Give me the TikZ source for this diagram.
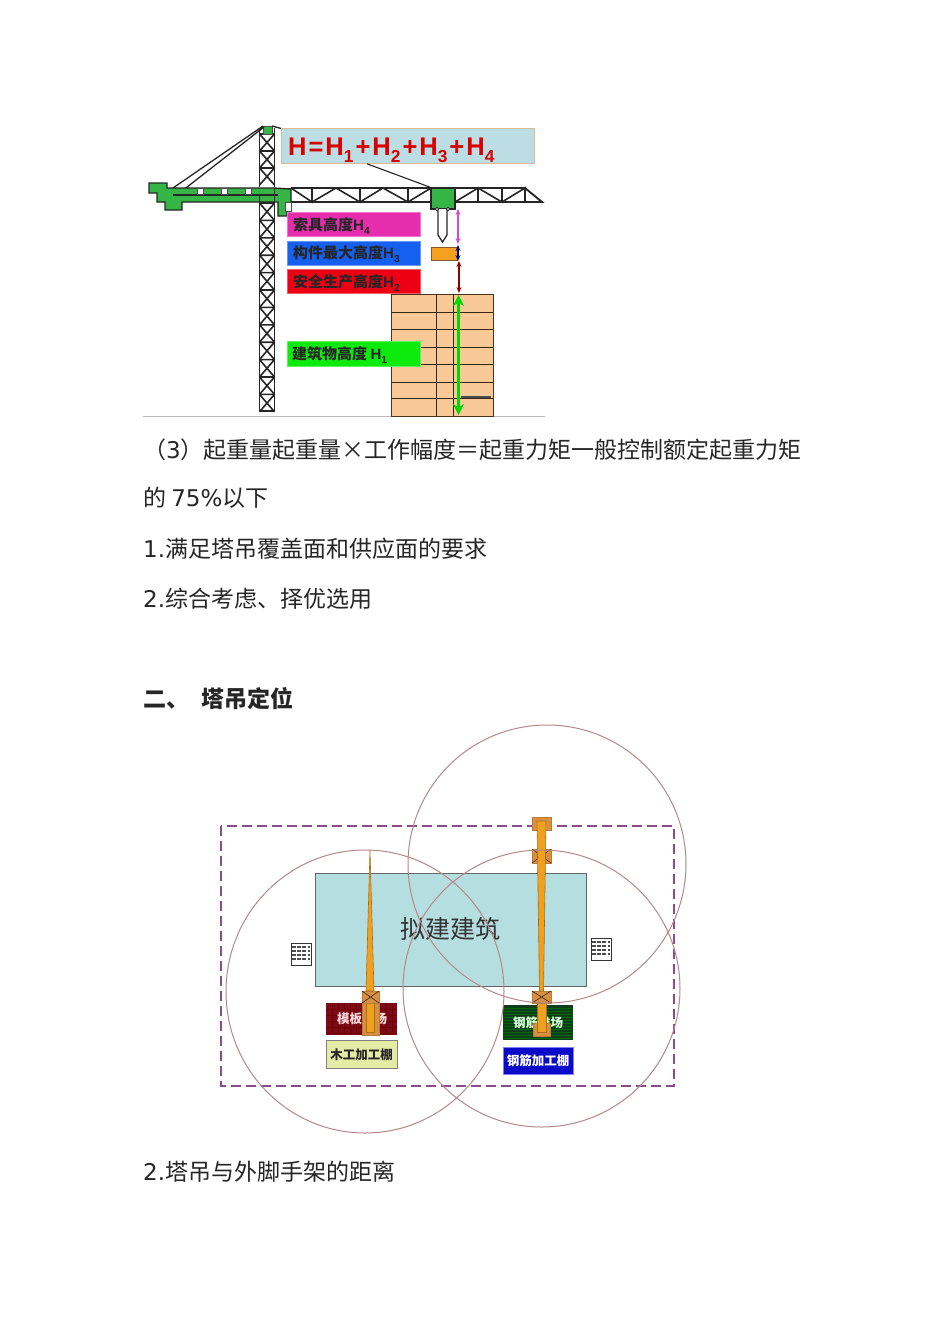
\documentclass[tikz,border=0pt]{standalone}
\usepackage{fontspec}
\setmainfont{DejaVu Sans}
\newfontfamily\cjk{Noto Sans CJK SC}
\newfontfamily\liber{Liberation Sans}
\usetikzlibrary{arrows.meta,shapes.geometric}
\definecolor{txt}{HTML}{262626}
\definecolor{mygreen}{HTML}{34B545}
\definecolor{circ}{HTML}{B5888A}
\definecolor{orng}{HTML}{F0A020}
\definecolor{orng2}{HTML}{D89040}
\definecolor{lmag}{HTML}{E52DAE}
\definecolor{lblu}{HTML}{1560EE}
\definecolor{lred}{HTML}{EE0014}
\definecolor{lgrn}{HTML}{0CEB0C}
\definecolor{dashc}{HTML}{8E4A8E}
\newcommand{\sbs}[1]{\raisebox{-.28em}{\scalebox{.68}{#1}}}
\newcommand{\opgap}[1]{\hspace{2pt}#1\hspace{2pt}}
\tikzset{
  bodytext/.style={anchor=west,inner sep=0pt,text=txt,font=\fontsize{23}{23}\selectfont},
  lab/.style={anchor=west,minimum height=24pt,minimum width=133pt,inner sep=0pt,draw=#1!65!white,fill=#1,line width=.8pt},
  labt/.style={anchor=base west,inner sep=0pt,text=black!85,font=\cjk\bfseries\fontsize{15}{15}\selectfont},
  steelline/.style={line width=1.9pt,draw=black!85},
  lat/.style={line width=1.6pt,draw=black!85},
  dim/.style={line width=1.2pt,{Stealth[length=6pt,width=5pt]}-{Stealth[length=6pt,width=5pt]}},
  ring/.style={draw=circ,line width=1pt,ellipse,inner sep=0pt},
  icon/.style={draw=black!80,fill=white,line width=1pt},
  orngbox/.style={draw=orng2!85!black,fill=orng2,line width=.7pt},
  orngbar/.style={draw=orng!70!black,fill=orng,line width=.6pt},
  sitebox/.style={inner sep=0pt,anchor=north west},
  sitet/.style={inner sep=0pt,font=\cjk\bfseries\fontsize{12.5}{12.5}\selectfont}
}
\begin{document}
\begin{tikzpicture}[x=1pt,y=-1pt]
\useasboundingbox (0,0) rectangle (950,1344);
\fill[white] (0,0) rectangle (950,1344);

% ---- crane figure ----
\draw[black!28,line width=1.2pt] (143,416.5) -- (545,416.5);

% tower
\draw[lat] (259.5,128) -- (259.5,187) (274.5,128) -- (274.5,187) (259.5,203) -- (259.5,411) (274.5,203) -- (274.5,411);
\foreach \y in {134,151,168}{
  \draw[lat] (259.5,\y) -- (274.5,\y+17) (274.5,\y) -- (259.5,\y+17) (259.5,\y) -- (274.5,\y);
}
\foreach \i in {0,...,11}{
  \draw[lat] (259.5,203+\i*17.4) -- (274.5,220.4+\i*17.4) (274.5,203+\i*17.4) -- (259.5,220.4+\i*17.4) (259.5,203+\i*17.4) -- (274.5,203+\i*17.4);
}
\draw[lat] (259.5,411) -- (274.5,411);
\fill[mygreen,draw=black!70,line width=.6pt] (263,126) rectangle (272,134);

% back stays
\draw[steelline,line width=1.3pt] (263,126) -- (173,188) (264,127) -- (182,191) (272,126) -- (283,129);
\draw[steelline,line width=1.3pt] (173,188) -- (182,191);

% jib truss
\draw[steelline] (291,188) -- (525,188) -- (542,202) -- (291,202);
\draw[lat] (291,188) -- (312,202) -- (312,188) (312,202) -- (336,188) -- (360,202) -- (360,188) (360,202) -- (383,188) -- (408,202) -- (408,188) (408,202) -- (431,188);
\draw[lat] (455,202) -- (478,188) -- (478,202) (478,188) -- (502,202) -- (502,188) (502,202) -- (525,188) -- (525,202);

% counter jib
\fill[mygreen,draw=black!85,line width=1.4pt]
 (149,183) -- (167,183) -- (167,188) -- (173,188) -- (182,188) -- (273,188) -- (291,189) -- (291,212)
 -- (287,212) -- (287,216) -- (278,216) -- (278,202) -- (182,202) -- (182,210) -- (165,210) -- (165,202)
 -- (157,202) -- (157,193) -- (149,193) -- cycle;
\draw[black!85,line width=1.2pt] (173,195) -- (278,195);
\foreach \x in {197,221,245}{
  \fill[white,draw=black!70,line width=.4pt] (\x,188.5) rectangle (\x+6,194.5);
}
\fill[white,draw=black!70,line width=.4pt] (285,202) rectangle (291,211);
\draw[black!85,line width=1.3pt] (259.5,195) -- (259.5,203) (274.5,188) -- (274.5,203);

% trolley and hook
\node[draw=black!85,fill=mygreen,line width=1.4pt,minimum width=24pt,minimum height=21pt,inner sep=0pt] (trolley) at (443,198.5) {};
\draw[black!85,line width=1.3pt,fill=white] (438,209) -- (438,235) -- (442.5,242) -- (447,235) -- (447,209);
\draw[black!85,line width=.8pt,fill=white] (437,209) circle (1.8) (448,209) circle (1.8);
\node[draw=brown!70!black,fill={rgb,255:red,245;green,160;blue,30},line width=.7pt,minimum width=26pt,minimum height=13pt,inner sep=0pt] (load) at (444,253.5) {};

% dimension arrows
\coordinate (a1) at (458,209); \coordinate (a2) at (458,244);
\coordinate (b1) at (458,245); \coordinate (b2) at (458,261);
\coordinate (c1) at (459,261); \coordinate (c2) at (459,293);
\coordinate (d1) at (458.5,295); \coordinate (d2) at (458.5,415);
\draw[dim,draw=violet!50!magenta!70,fill=violet!50!magenta!70] (a1) -- (a2);
\draw[dim,draw=blue!50!black,fill=blue!50!black] (b1) -- (b2);
\draw[dim,draw=red!55!black,fill=red!55!black] (c1) -- (c2);

% building
\node[draw=black!60!brown,line width=.8pt,minimum width=102pt,minimum height=122pt,inner sep=0pt,anchor=north west,fill={rgb,255:red,248;green,200;blue,150}] (bldg) at (391,294) {};
\foreach \y in {312,329,347,364,382,398}{
  \draw[black!70!brown,line width=.8pt] (391,\y) -- (493,\y);
}
\draw[black!70!brown,line width=.8pt] (436,294) -- (436,416) (453,294) -- (453,416);
\draw[green!85!black,line width=3.6pt,{Stealth[length=11pt,width=11pt]}-{Stealth[length=11pt,width=11pt]}] (d1) -- (d2);
\draw[black!70,line width=1.1pt] (461,397) -- (491,397);

% labels
\node[lab=lmag] (l4) at (287,224.5) {};
\node[lab=lblu] (l3) at (287,253) {};
\node[lab=lred] (l2) at (287,281.5) {};
\node[lab=lgrn,minimum height=25pt] (l1) at (286.5,353.5) {};
\node[labt] at (293,230) {索具高度{\liber H\sbs{4}}};
\node[labt] at (293,258.5) {构件最大高度{\liber H\sbs{3}}};
\node[labt] at (293,287) {安全生产高度{\liber H\sbs{2}}};
\node[labt] at (292,359) {建筑物高度 {\liber H\sbs{1}}};

% formula
\node[draw=brown!55!white,fill={rgb,255:red,188;green,221;blue,227},line width=.8pt,minimum width=253pt,minimum height=35pt,inner sep=0pt,anchor=north west] (formula) at (281,128) {};
\node[anchor=base west,inner sep=0pt,text=red!85!black,font=\liber\bfseries\fontsize{25.5}{25.5}\selectfont] at (288,155) {H\opgap{=}H\sbs{1}\opgap{+}H\sbs{2}\opgap{+}H\sbs{3}\opgap{+}H\sbs{4}};
\draw[black!85,line width=1.1pt] (formula.south west -| 367,163) -- (trolley.north west);

% ---- text lines ----
\node[bodytext] (t1) at (143,450) {\cjk （{\fontspec{DejaVu Sans}3}）起重量起重量×工作幅度＝起重力矩一般控制额定起重力矩};
\node[bodytext] (t2) at (143,498) {\cjk 的 {\fontspec{DejaVu Sans}75\%}以下};
\node[bodytext] (t3) at (143,549) {1.{\cjk 满足塔吊覆盖面和供应面的要求}};
\node[bodytext] (t4) at (143,599) {2.{\cjk 综合考虑、择优选用}};
\node[bodytext,font=\cjk\bfseries\fontsize{23}{23}\selectfont] (t5) at (143,699) {二、\hspace{12pt}塔吊定位};
\node[bodytext] (t6) at (143,1172) {2.{\cjk 塔吊与外脚手架的距离}};

% ---- site plan ----
\node[draw=black!60,fill={rgb,255:red,181;green,222;blue,224},line width=.8pt,minimum width=271pt,minimum height=113pt,inner sep=0pt,anchor=north west] (plan) at (315,873) {};
\node[inner sep=0pt,text=black!80,font=\cjk\fontsize{25}{25}\selectfont] (plant) at (450,929) {拟建建筑};

\draw[dashc,line width=1.4pt,dash pattern=on 10pt off 5pt] (221,826) rectangle (674,1086);

% site boxes
\node[sitebox,fill={rgb,255:red,125;green,10;blue,25},minimum width=71pt,minimum height=32pt] (mb) at (326,1003) {};
\foreach \x in {332,338,...,392}{\draw[red!45!black,line width=.3pt] (\x,1003) -- (\x,1035);}
\foreach \y in {1009,1015,...,1033}{\draw[red!45!black,line width=.3pt] (326,\y) -- (397,\y);}
\node[sitet,text=white!85!red] at (362,1019) {模板堆场};

\node[sitebox,draw=black!50,fill={rgb,255:red,226;green,236;blue,165},minimum width=71pt,minimum height=28pt,line width=.6pt] (mg) at (326,1040) {};
\node[sitet,text=black!85] at (361.5,1054.5) {木工加工棚};

\node[sitebox,fill={rgb,255:red,12;green,62;blue,28},minimum width=70pt,minimum height=35pt] (gb) at (503,1005) {};
\foreach \y in {1008,1011,...,1038}{\draw[green!40!black,line width=.5pt] (503,\y) -- (573,\y);}
\node[sitet,text=white!85!green] at (538,1023) {钢筋堆场};

\node[sitebox,draw=blue!50,fill={rgb,255:red,10;green,10;blue,200},minimum width=70pt,minimum height=27pt,line width=.6pt] (gg) at (503,1047) {};
\node[sitet,text=white] at (538,1060.5) {钢筋加工棚};

% brick icons
\foreach \cx/\cy in {301/954,601/949}{
  \draw[icon] (\cx-10,\cy-11) rectangle (\cx+10,\cy+11);
  \foreach \d in {-7,-3,1,5}{\draw[black!70,line width=1.6pt,dash pattern=on 4pt off 1.2pt] (\cx-9,\cy+\d) -- (\cx+9,\cy+\d);}
}

% crane A
\draw[orngbar] (370,850) -- (374,991) -- (366,991) -- cycle;
\draw[orngbox,fill=orng2] (362,1003) rectangle (379,1035);
\draw[orngbar] (366,991) rectangle (374,1032);
\draw[orngbox] (362,991) rectangle (379,1003);
\draw[black!70!brown,line width=.6pt] (362,991) -- (379,1003) (379,991) -- (362,1003);

% crane B
\draw[orngbox] (532,817) rectangle (551,830);
\draw[orngbox] (532,849) rectangle (551,863);
\draw[black!70!brown,line width=.5pt] (532,849) -- (551,863) (551,849) -- (532,863);
\draw[orngbar] (537,821) -- (546,821) -- (543.5,991) -- (539.5,991) -- cycle;
\draw[orngbox] (533,1023) rectangle (550,1036);
\draw[orngbar] (537,1003) rectangle (546,1032);
\draw[orngbox] (532,991) rectangle (551,1003);
\draw[black!70!brown,line width=.6pt] (532,991) -- (551,1003) (551,991) -- (532,1003);

% swing circles
\node[ring,minimum width=278pt,minimum height=283pt] (ra) at (365,991.5) {};
\node[ring,minimum width=277pt,minimum height=277pt] (rb) at (541.5,988.5) {};
\node[ring,minimum width=278pt,minimum height=278pt] (rc) at (547,864) {};
\end{tikzpicture}
\end{document}
